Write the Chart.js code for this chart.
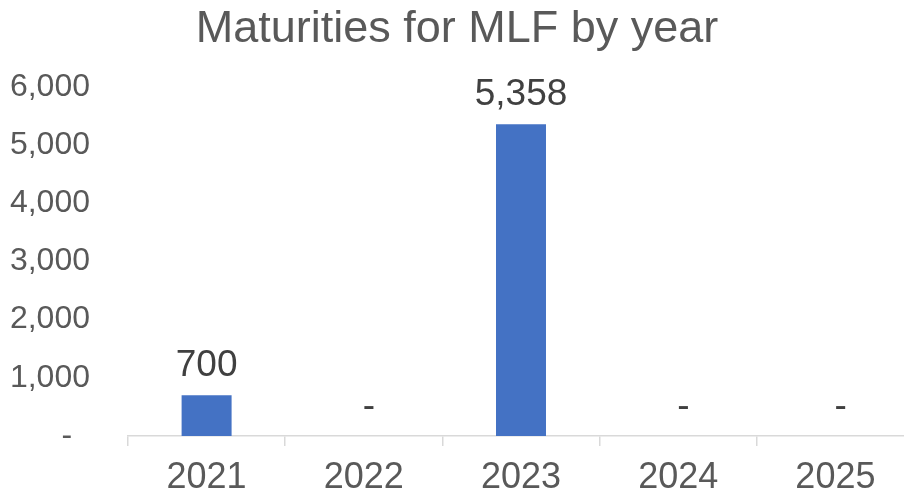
<!DOCTYPE html>
<html>
<head>
<meta charset="utf-8">
<script src="https://cdn.jsdelivr.net/npm/chart.js@4"></script>
<style>
  html, body { margin: 0; padding: 0; background: #fff; overflow: hidden; }
  #wrap { position: relative; width: 916px; height: 496px; }
</style>
</head>
<body>
<div id="wrap"><canvas id="c"></canvas></div>
<script>
const categories = ['2021', '2022', '2023', '2024', '2025'];
const maturities = [700, 0, 5358, 0, 0];
const yTicks = [0, 1000, 2000, 3000, 4000, 5000, 6000];

function fmt(v) { return v === 0 ? '-' : v.toLocaleString('en-US'); }

const valueLabels = {
  id: 'valueLabels',
  afterDatasetsDraw(chart) {
    const ctx = chart.ctx;
    const meta = chart.getDatasetMeta(0);
    ctx.save();
    ctx.font = '37px "Liberation Sans", Arial, sans-serif';
    ctx.fillStyle = '#404040';
    ctx.textAlign = 'center';
    ctx.textBaseline = 'alphabetic';
    meta.data.forEach((bar, i) => {
      const v = maturities[i];
      const txt = v === 0 ? ' -' : fmt(v);
      ctx.fillText(txt, bar.x, bar.y - 19);
    });
    ctx.restore();
  }
};

new Chart(document.getElementById('c'), {
  type: 'bar',
  data: {
    labels: categories,
    datasets: [{
      data: maturities,
      backgroundColor: '#4472C4',
      barPercentage: 0.318,
      categoryPercentage: 1.0
    }]
  },
  options: {
    responsive: true,
    maintainAspectRatio: false,
    animation: false,
    layout: { padding: { left: 0, right: 2, top: 0, bottom: 0 } },
    plugins: {
      legend: { display: false },
      tooltip: { enabled: false },
      title: {
        display: true,
        text: 'Maturities for MLF by year',
        color: '#595959',
        font: { family: '"Liberation Sans", Arial, sans-serif', size: 45, weight: 'normal' },
        padding: { top: 3, bottom: 30 }
      }
    },
    scales: {
      x: {
        afterFit(scale) { scale.height = 60; },
        grid: { display: true, drawOnChartArea: false, drawTicks: true, tickLength: 10, color: '#d9d9d9', lineWidth: 1.5, offset: true },
        border: { display: true, color: '#d9d9d9', width: 1.5 },
        ticks: {
          color: '#595959',
          padding: 10,
          font: { family: '"Liberation Sans", Arial, sans-serif', size: 36 }
        }
      },
      y: {
        min: 0,
        max: 6000,
        afterBuildTicks(scale) { scale.ticks = yTicks.map(v => ({ value: v })); },
        afterFit(scale) { scale.width = 128; },
        grid: { display: false },
        border: { display: false },
        ticks: {
          color: '#595959',
          padding: 30,
          font: { family: '"Liberation Sans", Arial, sans-serif', size: 32 },
          callback(v) { return v === 0 ? '-  ' : fmt(v); }
        }
      }
    }
  },
  plugins: [valueLabels]
});
</script>
</body>
</html>
